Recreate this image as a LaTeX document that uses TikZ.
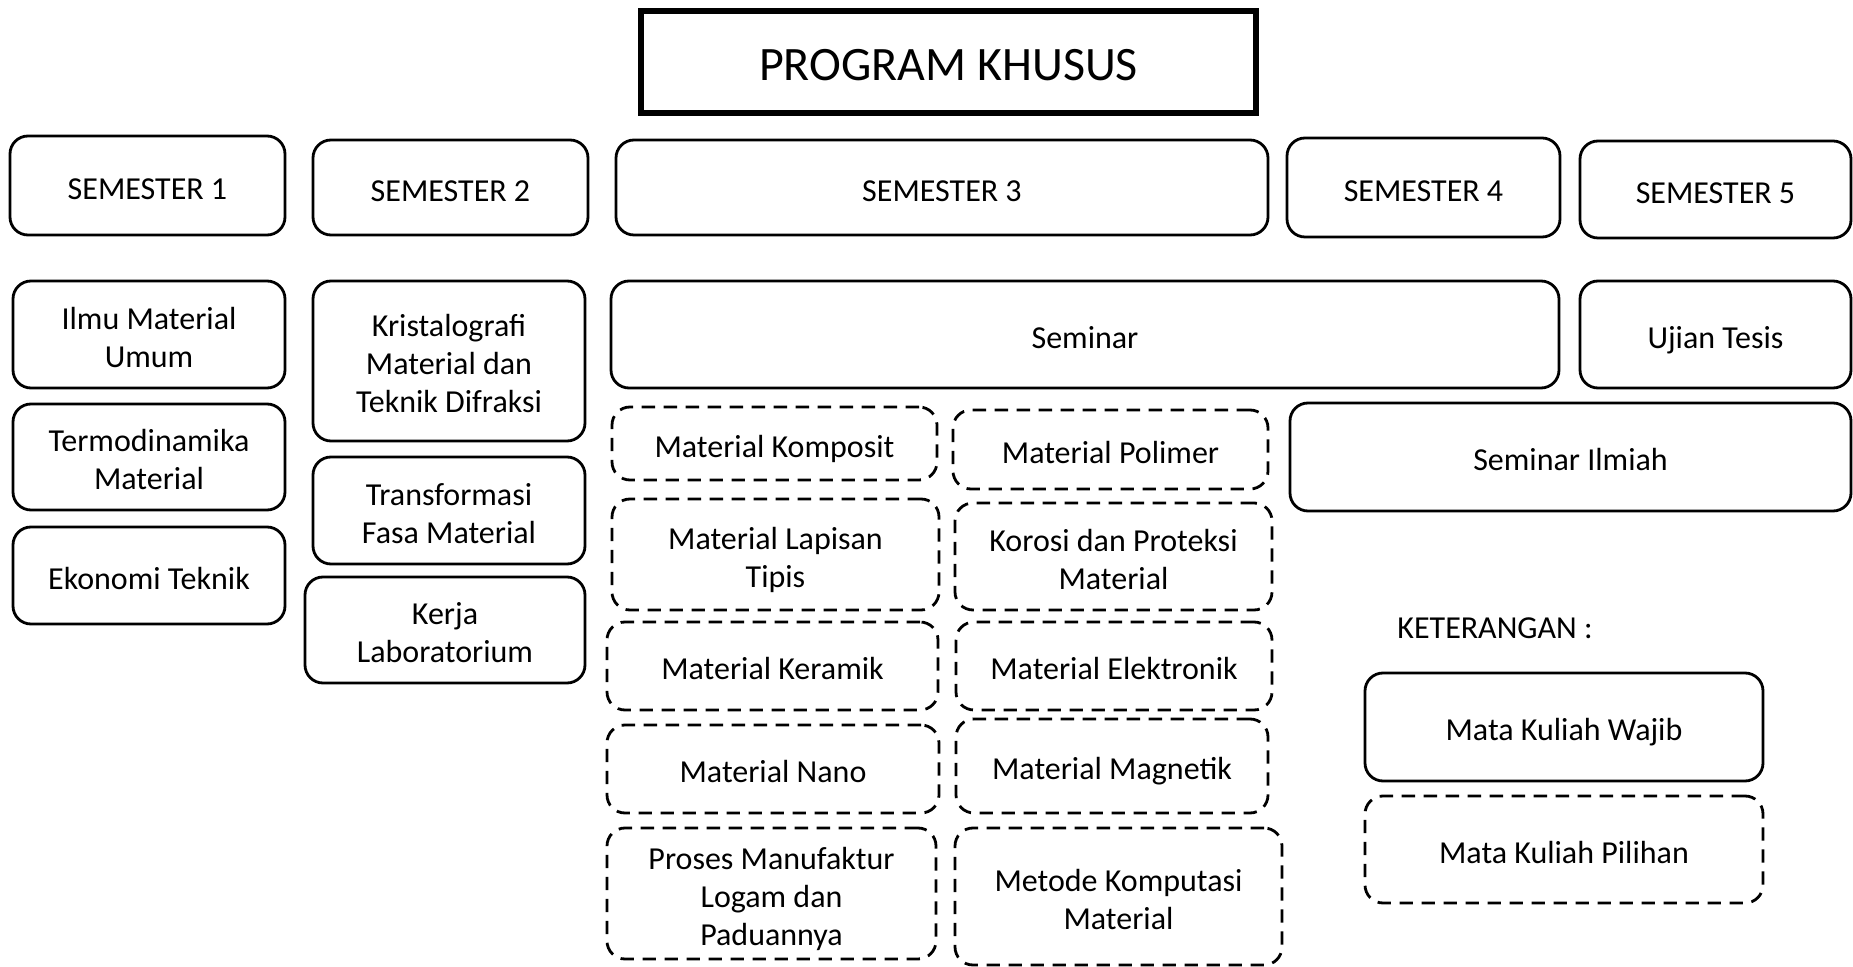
\documentclass[tikz,border=0pt]{standalone}
\usepackage{fontspec}
\setmainfont{Carlito}
\tikzset{
  wajib/.style={draw, rounded corners=9pt, line width=1.4pt, align=center, inner sep=0pt,
    font=\fontsize{16}{19}\selectfont,
    execute at end node={\rule[-4.5pt]{0pt}{4.5pt}}},
  pilihan/.style={wajib, dash pattern=on 6.7pt off 4.3pt},
  titlebox/.style={draw, line width=2.6pt, inner sep=0pt, font=\fontsize{24}{28}\selectfont,
    execute at begin node={\rule[-5.5pt]{0pt}{29.5pt}}},
}
\newcommand{\bx}[7]{%
  \node[#6, minimum width={(#4-#2)*0.5pt}, minimum height={(#5-#3)*0.5pt}] (#1) at ({(#2+#4)/2},{(#3+#5)/2}) {\rule{0pt}{18.3pt}#7};}
\begin{document}
\begin{tikzpicture}[x=0.5pt,y=-0.5pt]
\useasboundingbox (0,0) rectangle (1853,967);
% title
\bx{title}{641}{11}{1256}{113}{titlebox}{PROGRAM KHUSUS}
% semesters
\bx{s1}{10}{136}{285}{235}{wajib}{SEMESTER 1}
\bx{s2}{313}{140}{588}{235}{wajib}{SEMESTER 2}
\bx{s3}{616}{140}{1268}{235}{wajib}{SEMESTER 3}
\bx{s4}{1287}{138}{1560}{237}{wajib}{SEMESTER 4}
\bx{s5}{1580}{141}{1851}{238}{wajib}{SEMESTER 5}
% semester 1
\bx{ilmu}{13}{281}{285}{388}{wajib}{Ilmu Material\\Umum}
\bx{termo}{13}{404}{285}{510}{wajib}{Termodinamika\\Material}
\bx{eko}{13}{527}{285}{624}{wajib}{Ekonomi Teknik}
% semester 2
\bx{kris}{313}{281}{585}{441}{wajib}{Kristalografi\\Material dan\\Teknik Difraksi}
\bx{trans}{313}{457}{585}{564}{wajib}{Transformasi\\Fasa Material}
\bx{kerja}{305}{577}{585}{683}{wajib}{Kerja\\Laboratorium}
% semester 3/4/5
\bx{sem}{611}{281}{1559}{388}{wajib}{Seminar}
\bx{ujian}{1580}{281}{1851}{388}{wajib}{Ujian Tesis}
\bx{semil}{1290}{403}{1851}{511}{wajib}{Seminar Ilmiah}
% electives column A
\bx{komp}{612}{407}{937}{480}{pilihan}{Material Komposit}
\bx{lap}{612}{499}{939}{610}{pilihan}{Material Lapisan\\Tipis}
\bx{ker}{607}{622}{938}{710}{pilihan}{Material Keramik}
\bx{nano}{607}{725}{939}{813}{pilihan}{Material Nano}
\bx{pros}{607}{828}{936}{959}{pilihan}{Proses Manufaktur\\Logam dan\\Paduannya}
% electives column B
\bx{poli}{953}{410}{1268}{489}{pilihan}{Material Polimer}
\bx{kor}{955}{503}{1272}{610}{pilihan}{Korosi dan Proteksi\\Material}
\bx{elek}{956}{622}{1272}{710}{pilihan}{Material Elektronik}
\bx{mag}{956}{719}{1268}{813}{pilihan}{Material Magnetik}
\bx{met}{955}{828}{1282}{965}{pilihan}{Metode Komputasi\\Material}
% legend
\node[anchor=west, inner sep=0pt, font=\fontsize{16}{19}\selectfont] (ket) at (1397,628) {KETERANGAN :};
\bx{wj}{1365}{673}{1763}{781}{wajib}{Mata Kuliah Wajib}
\bx{pl}{1365}{796}{1763}{903}{pilihan}{Mata Kuliah Pilihan}
\end{tikzpicture}
\end{document}
